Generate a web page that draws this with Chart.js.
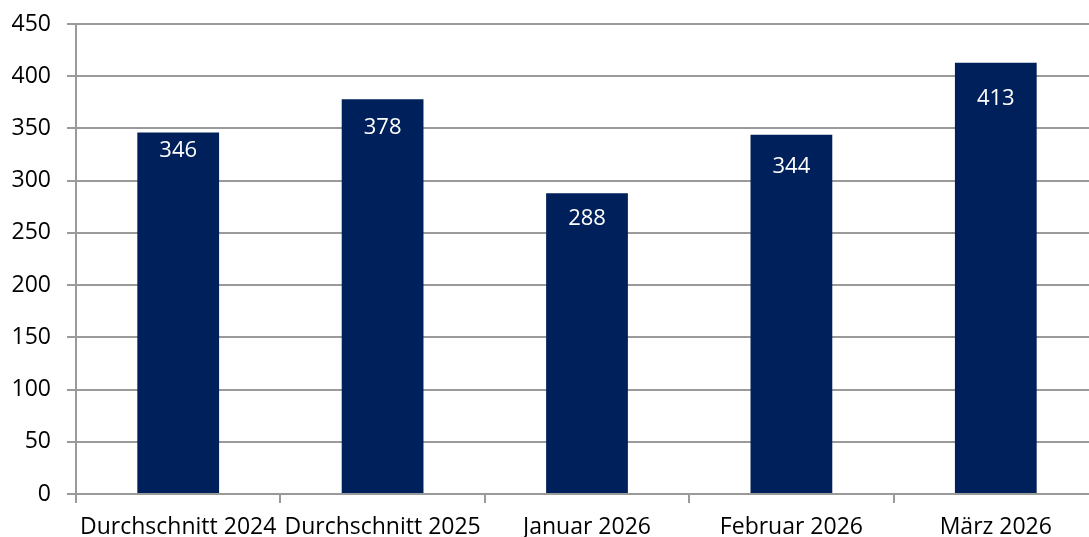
<!DOCTYPE html>
<html>
<head>
<meta charset="utf-8">
<script src="https://cdn.jsdelivr.net/npm/chart.js@4/dist/chart.umd.min.js"></script>
<style>
  html, body { margin: 0; padding: 0; background: #fff; overflow: hidden; }
  #wrap { width: 1098px; height: 537px; }
</style>
</head>
<body>
<div id="wrap"><canvas id="chart" width="1098" height="537"></canvas></div>
<script>
// Chart data
const categories = ['Durchschnitt 2024', 'Durchschnitt 2025', 'Januar 2026', 'Februar 2026', 'März 2026'];
const values = [346, 378, 288, 344, 413];
const yMin = 0;
const yMax = 450;
const yStep = 50;

// Styling
const barColor = '#00205B';
const gridColor = '#9a9a9a';
const fontFamily = '"Open Sans", "Noto Sans", sans-serif';
const labelOffsets = [18, 29, 26, 32, 36]; // px below bar top, as in the original

// Draw the value inside the top of each bar
const valueLabels = {
    id: 'valueLabels',
    afterDatasetsDraw(chart) {
        const ctx = chart.ctx;
        const meta = chart.getDatasetMeta(0);
        ctx.save();
        ctx.fillStyle = '#ffffff';
        ctx.font = '22px ' + fontFamily;
        ctx.textAlign = 'center';
        ctx.textBaseline = 'middle';
        meta.data.forEach((bar, i) => {
            ctx.fillText(String(values[i]), bar.x, bar.y + labelOffsets[i]);
        });
        ctx.restore();
    }
};

new Chart(document.getElementById('chart').getContext('2d'), {
    type: 'bar',
    data: {
        labels: categories,
        datasets: [{
            data: values,
            backgroundColor: barColor,
            barPercentage: 0.4,
            categoryPercentage: 1.0
        }]
    },
    options: {
        responsive: false,
        animation: false,
        layout: { padding: { top: 24, right: 0, left: 0, bottom: 0 } },
        plugins: {
            legend: { display: false },
            tooltip: { enabled: false }
        },
        scales: {
            x: {
                grid: {
                    offset: true,
                    drawOnChartArea: false,
                    drawTicks: true,
                    tickLength: 9,
                    color: gridColor,
                    lineWidth: 2
                },
                border: { color: gridColor, width: 2 },
                ticks: {
                    color: '#000',
                    font: { family: fontFamily, size: 23 },
                    padding: 11,
                    maxRotation: 0,
                    autoSkip: false
                },
                afterFit(scale) {
                    scale.height = 43;
                    scale.paddingLeft = 0;
                    scale.paddingRight = 0;
                }
            },
            y: {
                min: yMin,
                max: yMax,
                ticks: {
                    stepSize: yStep,
                    color: '#000',
                    font: { family: fontFamily, size: 23 },
                    padding: 16
                },
                grid: {
                    color: gridColor,
                    lineWidth: 2,
                    tickLength: 9
                },
                border: { color: gridColor, width: 2 },
                afterFit(scale) {
                    scale.width = 76;
                    scale.paddingTop = 0;
                    scale.paddingBottom = 0;
                }
            }
        }
    },
    plugins: [valueLabels]
});
</script>
</body>
</html>
